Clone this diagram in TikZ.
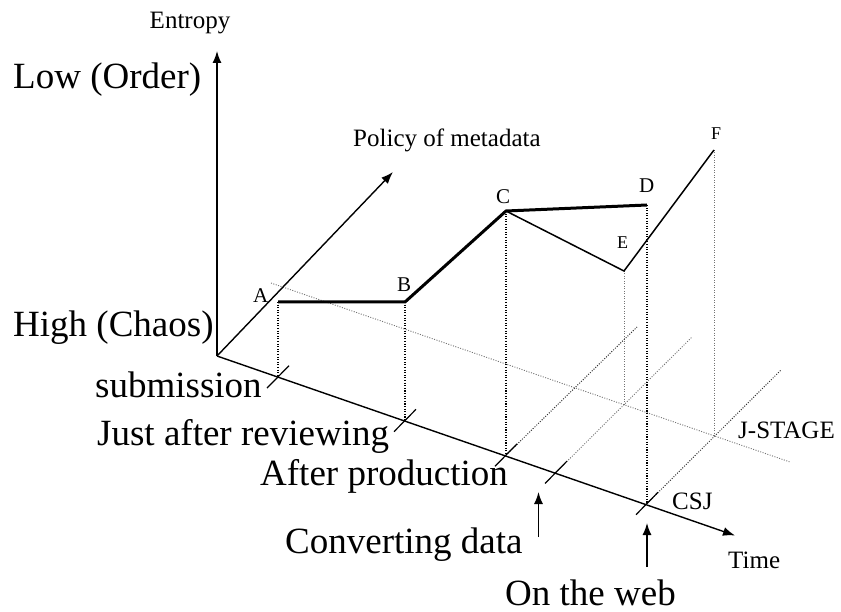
\documentclass[tikz,border=0pt]{standalone}
\usepackage{fontspec}
\setmainfont{Liberation Serif}
\usetikzlibrary{arrows.meta,calc}
\begin{document}
\begin{tikzpicture}[x=1pt,y=-1pt,
  axis/.style={line width=1.4pt,-{Latex[length=12pt,width=9pt]}},
  tickmark/.style={line width=1.2pt},
  bigtext/.style={font=\fontsize{37}{40}\selectfont,anchor=base west,inner sep=0pt},
  smalltext/.style={font=\fontsize{25}{28}\selectfont,anchor=base west,inner sep=0pt},
  ptlabel/.style={font=\fontsize{21}{24}\selectfont,anchor=base west,inner sep=0pt},
  ptlabelsm/.style={font=\fontsize{18}{20}\selectfont,anchor=base west,inner sep=0pt},
  blackdot/.style={line width=1.2pt,dash pattern=on 1.1pt off 1.5pt},
  graydot/.style={line width=0.9pt,black!55,dash pattern=on 1pt off 1.5pt},
  darkdot/.style={line width=1pt,black!80,dash pattern=on 1pt off 1.5pt},
  thickcurve/.style={line width=3pt,line join=miter},
  thincurve/.style={line width=1.5pt}]
\useasboundingbox (0,0) rectangle (841,612);
% key points
\coordinate (O) at (217,356);
\coordinate (Ytip) at (217,51);
\coordinate (Ptip) at (393,172);
\coordinate (Ttip) at (735,535.5);
\coordinate (A) at (278,302);
\coordinate (B) at (405,302);
\coordinate (C) at (506,211);
\coordinate (D) at (647,205);
\coordinate (E) at (624,271);
\coordinate (F) at (714,150);
% feet on time axis
\coordinate (tA) at (278,376.9);
\coordinate (tB) at (405,420.5);
\coordinate (tC) at (506,455.1);
\coordinate (tV) at (556,472.3);
\coordinate (tW) at (647,503.5);
% depth line ends
\coordinate (dC) at (637,327);
\coordinate (dV) at (692,337);
\coordinate (dW) at (781,370);
% J-STAGE line
\coordinate (J1) at (271,283);
\coordinate (J2) at (790,462);
\coordinate (fE) at (624,404.8);
\coordinate (fF) at (714,435.8);
% arrow starts
\coordinate (aV0) at (538.5,537);
\coordinate (aV1) at (538.5,492);
\coordinate (aW0) at (647,567);
\coordinate (aW1) at (647,523);

% gray dotted guides
\draw[graydot] (J1) -- (J2);
\draw[graydot] (tV) -- (dV);
\draw[darkdot] (tC) -- (dC);
\draw[darkdot] (tW) -- (dW);
\draw[graydot] (E) -- (fE);
\draw[graydot] (F) -- (fF);
% black dotted verticals
\draw[blackdot] (A) -- (tA);
\draw[blackdot] (B) -- (tB);
\draw[blackdot] (C) -- (tC);
\draw[blackdot] (D) -- (tW);
% axes
\draw[axis] (O) -- (Ytip);
\draw[axis] (O) -- (Ptip);
\draw[axis] (O) -- (Ttip);
% ticks
\foreach \p in {tA,tB,tC,tV,tW}
  \draw[tickmark] ($(\p)+(-11,11.2)$) -- ($(\p)+(11,-11.2)$);
% curves
\draw[thickcurve] (A) -- (B) -- (C) -- (D);
\draw[thincurve] (C) -- (E) -- (F);
% up arrows
\draw[axis] (aV0) -- (aV1);
\draw[axis] (aW0) -- (aW1);

% texts
\node[smalltext,anchor=base] (entropy) at (190,29) {Entropy};
\node[bigtext] (low) at (13,89) {Low (Order)};
\node[bigtext] (high) at (13,337) {High (Chaos)};
\node[smalltext] (policy) at (353,147) {Policy of metadata};
\node[bigtext] (subm) at (95,397) {submission};
\node[bigtext] (review) at (97,445) {Just after reviewing};
\node[bigtext] (prod) at (260,485) {After production};
\node[bigtext] (conv) at (285,553) {Converting data};
\node[bigtext] (web) at (505,605) {On the web};
\node[smalltext] (jstage) at (738,438) {J-STAGE};
\node[smalltext] (csj) at (672,509) {CSJ};
\node[smalltext] (time) at (728,568) {Time};
\node[ptlabel] (lA) at (253,303) {A};
\node[ptlabel] (lB) at (397,292) {B};
\node[ptlabel] (lC) at (496,204) {C};
\node[ptlabel] (lD) at (639,193) {D};
\node[ptlabelsm] (lE) at (617,249) {E};
\node[ptlabelsm] (lF) at (711,140) {F};
\end{tikzpicture}
\end{document}
